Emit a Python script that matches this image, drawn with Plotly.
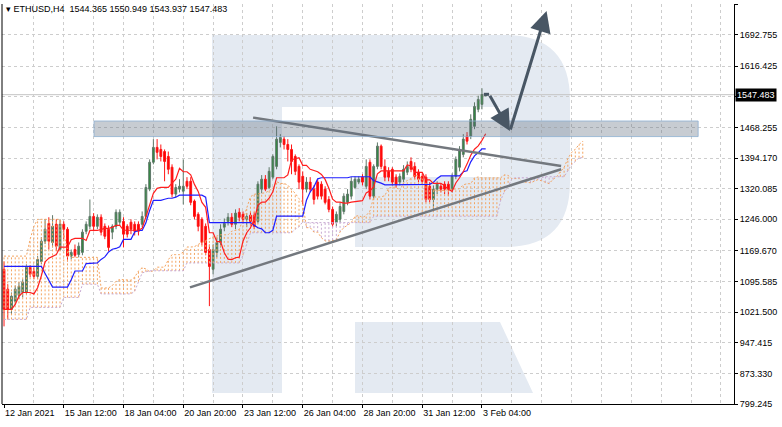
import plotly.graph_objects as go
import pandas as pd

# ---------------- data ----------------
symbol = "ETHUSD,H4"

opens = [1125, 1077, 1028, 1048, 1062, 1069, 1069, 1130, 1120, 1108,
         1144, 1193, 1236, 1190, 1234, 1173, 1234, 1222, 1157, 1173,
         1161, 1166, 1217, 1229, 1253, 1229, 1251, 1229, 1222, 1215,
         1229, 1239, 1241, 1229, 1239, 1234, 1234, 1234, 1253, 1319,
         1384, 1420, 1415, 1410, 1398, 1372, 1307, 1319, 1314, 1338,
         1338, 1290, 1258, 1246, 1229, 1173, 1125, 1166, 1190, 1227,
         1241, 1251, 1234, 1263, 1258, 1246, 1256, 1256, 1241, 1319,
         1343, 1323, 1348, 1374, 1432, 1440, 1427, 1415, 1398, 1374,
         1350, 1319, 1336, 1319, 1336, 1331, 1319, 1294, 1270, 1239,
         1246, 1265, 1287, 1302, 1323, 1336, 1348, 1326, 1384, 1302,
         1374, 1423, 1374, 1362, 1367, 1348, 1336, 1343, 1360, 1386,
         1374, 1360, 1350, 1348, 1326, 1294, 1319, 1326, 1331, 1331,
         1319, 1350, 1372, 1403, 1447, 1447, 1471, 1512, 1524, 1544.365]

highs = [1144, 1089, 1069, 1086, 1094, 1101, 1137, 1135, 1130, 1157,
         1203, 1246, 1251, 1256, 1246, 1246, 1241, 1227, 1173, 1185,
         1190, 1222, 1241, 1294, 1261, 1258, 1258, 1236, 1231, 1234,
         1270, 1270, 1251, 1234, 1246, 1241, 1241, 1265, 1331, 1391,
         1440, 1440, 1427, 1415, 1410, 1379, 1331, 1343, 1391, 1348,
         1348, 1294, 1263, 1251, 1236, 1185, 1185, 1202, 1234, 1248,
         1261, 1261, 1270, 1273, 1265, 1261, 1265, 1263, 1338, 1353,
         1353, 1372, 1403, 1471, 1452, 1447, 1440, 1427, 1403, 1379,
         1362, 1348, 1348, 1328, 1343, 1338, 1326, 1302, 1277, 1265,
         1287, 1309, 1319, 1348, 1350, 1350, 1355, 1391, 1391, 1379,
         1432, 1427, 1391, 1372, 1372, 1355, 1357, 1377, 1386, 1396,
         1384, 1367, 1357, 1355, 1336, 1328, 1338, 1333, 1338, 1338,
         1357, 1398, 1423, 1452, 1457, 1500, 1529, 1545, 1563, 1550.949]

lows = [987, 1004, 1016, 1040, 1053, 1057, 1065, 1106, 1101, 1101,
        1137, 1186, 1173, 1178, 1169, 1169, 1198, 1144, 1149, 1154,
        1154, 1159, 1210, 1222, 1217, 1222, 1207, 1198, 1169, 1198,
        1222, 1231, 1178, 1202, 1210, 1207, 1207, 1227, 1246, 1314,
        1379, 1391, 1386, 1338, 1355, 1299, 1299, 1311, 1282, 1319,
        1280, 1246, 1217, 1183, 1159, 1036, 1113, 1154, 1178, 1217,
        1231, 1227, 1222, 1241, 1236, 1227, 1231, 1222, 1236, 1309,
        1314, 1319, 1343, 1367, 1420, 1415, 1386, 1355, 1353, 1319,
        1282, 1311, 1311, 1282, 1294, 1294, 1282, 1263, 1227, 1229,
        1239, 1258, 1280, 1294, 1319, 1331, 1328, 1319, 1294, 1294,
        1367, 1367, 1338, 1338, 1328, 1323, 1328, 1336, 1353, 1360,
        1343, 1336, 1331, 1287, 1287, 1270, 1307, 1311, 1307, 1302,
        1311, 1343, 1362, 1396, 1427, 1440, 1464, 1505, 1512, 1543.937]

closes = [1028, 1028, 1060, 1077, 1084, 1094, 1130, 1113, 1108, 1149,
          1193, 1222, 1193, 1229, 1181, 1234, 1222, 1157, 1166, 1159,
          1181, 1215, 1234, 1253, 1229, 1251, 1215, 1205, 1178, 1229,
          1263, 1263, 1210, 1210, 1222, 1217, 1217, 1253, 1323, 1384,
          1420, 1408, 1398, 1386, 1367, 1307, 1323, 1326, 1326, 1326,
          1287, 1253, 1229, 1190, 1166, 1132, 1173, 1190, 1222, 1236,
          1251, 1234, 1261, 1251, 1246, 1253, 1241, 1229, 1331, 1343,
          1319, 1362, 1398, 1440, 1444, 1427, 1415, 1386, 1362, 1336,
          1319, 1336, 1319, 1294, 1302, 1302, 1287, 1270, 1234, 1258,
          1277, 1302, 1307, 1338, 1343, 1343, 1336, 1374, 1302, 1374,
          1423, 1374, 1348, 1348, 1336, 1331, 1350, 1367, 1374, 1367,
          1350, 1343, 1338, 1294, 1294, 1319, 1331, 1319, 1319, 1319,
          1350, 1391, 1415, 1440, 1435, 1488, 1519, 1536, 1548, 1547.483]

bars = list(range(len(closes)))

# indicator values on screen that depend on bars before the visible window
tenkan_head = [1028, 1028, 1028, 1040, 1060, 1069, 1069, 1069]                 # bars 0-7
kijun_head = [1132, 1132, 1132, 1132, 1132, 1132, 1132, 1132, 1132, 1132,
              1132, 1115, 1100, 1082, 1082, 1082, 1082, 1082, 1100, 1121,
              1121, 1121, 1139, 1139, 1139]                                      # bars 0-24
span_a_head = [1157, 1157, 1157, 1157, 1157, 1157, 1157, 1198, 1229, 1246,
               1246, 1246, 1246, 1246, 1246, 1246, 1210, 1173, 1154, 1154,
               1154, 1154, 1154, 1154, 1154, 1154]                               # cloud columns 0-25
span_b_head = [1004, 1004, 1004, 1004, 1004, 1004, 1004, 1033, 1033, 1033,
               1033, 1033, 1033, 1033, 1033, 1033, 1057, 1057, 1057, 1057,
               1057, 1089, 1089, 1089, 1089, 1089]

x_tick_bars = [0, 16, 32, 48, 64, 80, 96, 112, 128]
x_tick_labels = ["12 Jan 2021", "15 Jan 12:00", "18 Jan 04:00", "20 Jan 20:00",
                 "23 Jan 12:00", "26 Jan 04:00", "28 Jan 20:00", "31 Jan 12:00",
                 "3 Feb 04:00"]
y_tick_values = [1766.840, 1692.755, 1616.425, 1542.340, 1468.255, 1394.170, 1320.085,
                 1246.000, 1169.670, 1095.585, 1021.500, 947.415, 873.330, 799.245]
y_tick_labels = ["1766.840", "1692.755", "1616.425", "", "1468.255", "1394.170", "1320.085",
                 "1246.000", "1169.670", "1095.585", "1021.500", "947.415", "873.330", "799.245"]

# drawn analysis objects
zone_prices = [1446.1, 1483.8]
zone_bars = [24.1, 185.9]
trend_upper_bars = [66.7, 149.2]
trend_upper_prices = [1492.0, 1374.9]
trend_lower_bars = [49.8, 149.2]
trend_lower_prices = [1081.5, 1367.0]
forecast_bars = [128.5, 129.9, 135.5, 145.3]
forecast_prices = [1548.4, 1548.4, 1459.6, 1749.9]

# ---------------- Ichimoku ----------------
h = pd.Series(highs, dtype=float)
l = pd.Series(lows, dtype=float)
tenkan = (h.rolling(9, min_periods=1).max() + l.rolling(9, min_periods=1).min()) / 2
kijun = (h.rolling(26, min_periods=1).max() + l.rolling(26, min_periods=1).min()) / 2
tenkan.iloc[:len(tenkan_head)] = tenkan_head
kijun.iloc[:len(kijun_head)] = kijun_head
span_a = list(span_a_head) + list((tenkan + kijun) / 2)
span_b = list(span_b_head) + list((h.rolling(52, min_periods=1).max() + l.rolling(52, min_periods=1).min()) / 2)
cloud_x = list(range(len(span_a)))

ox, oy, tx, ty = [], [], [], []
for j, a, b in zip(cloud_x, span_a, span_b):
    if a >= b:
        ox += [j, j, None]; oy += [b, a, None]
    else:
        tx += [j, j, None]; ty += [a, b, None]

ORANGE = "rgb(244,164,96)"
THISTLE = "rgb(200,170,210)"

fig = go.Figure()
fig.add_trace(go.Scatter(x=ox, y=oy, mode="lines", line=dict(color=ORANGE, width=1, dash="2px,2px"),
                         hoverinfo="skip"))
fig.add_trace(go.Scatter(x=tx, y=ty, mode="lines", line=dict(color=THISTLE, width=1, dash="2px,2px"),
                         hoverinfo="skip"))
fig.add_trace(go.Scatter(x=cloud_x, y=span_a, mode="lines", line=dict(color=ORANGE, width=1, dash="2px,2px")))
fig.add_trace(go.Scatter(x=cloud_x, y=span_b, mode="lines", line=dict(color=THISTLE, width=1, dash="2px,2px")))
fig.add_trace(go.Scatter(x=bars, y=list(kijun), mode="lines", line=dict(color="rgb(30,30,255)", width=1.2)))
fig.add_trace(go.Scatter(x=bars, y=list(tenkan), mode="lines", line=dict(color="rgb(255,30,30)", width=1.2)))

fig.add_trace(go.Candlestick(
    x=bars, open=opens, high=highs, low=lows, close=closes,
    increasing=dict(line=dict(color="rgb(95,120,105)", width=1), fillcolor="rgb(46,139,62)"),
    decreasing=dict(line=dict(color="rgb(255,20,20)", width=1), fillcolor="rgb(255,0,0)"),
    whiskerwidth=0,
))

LINE_GRAY = "rgb(115,120,126)"
fig.add_trace(go.Scatter(x=trend_upper_bars, y=trend_upper_prices, mode="lines",
                         line=dict(color=LINE_GRAY, width=2.5)))
fig.add_trace(go.Scatter(x=trend_lower_bars, y=trend_lower_prices, mode="lines",
                         line=dict(color=LINE_GRAY, width=2.5)))

ARROW = "rgb(72,86,100)"
fig.add_trace(go.Scatter(x=forecast_bars[:2], y=forecast_prices[:2], mode="lines",
                         line=dict(color=ARROW, width=3)))

# ---------------- layout ----------------
W, H = 782, 427
ML, MR, MT, MB = 2, 48, 4, 23
PW, PH = W - ML - MR, H - MT - MB


def px(xp):
    return (xp - ML) / PW


def py(yp):
    return (MT + PH - yp) / PH


LOGO = "rgb(228,234,242)"
shapes = []
# watermark "R"
for (x0, y0, x1, y1) in [(212, 35, 282, 393), (282, 35, 500, 107), (355, 177, 500, 247)]:
    shapes.append(dict(type="rect", xref="paper", yref="paper", x0=px(x0), x1=px(x1),
                       y0=py(y1), y1=py(y0), fillcolor=LOGO, line=dict(width=0), layer="below"))
bowl = (f"M {px(500)},{py(35)} L {px(505)},{py(35)} Q {px(570)},{py(35)} {px(570)},{py(100)} "
        f"L {px(570)},{py(182)} Q {px(570)},{py(247)} {px(505)},{py(247)} L {px(500)},{py(247)} Z")
shapes.append(dict(type="path", xref="paper", yref="paper", path=bowl, fillcolor=LOGO,
                   line=dict(width=0), layer="below"))
leg = (f"M {px(355)},{py(322)} L {px(500)},{py(322)} L {px(533)},{py(393)} L {px(355)},{py(393)} Z")
shapes.append(dict(type="path", xref="paper", yref="paper", path=leg, fillcolor=LOGO,
                   line=dict(width=0), layer="below"))
# bid line
shapes.append(dict(type="line", xref="paper", yref="y", x0=0, x1=1, y0=closes[-1], y1=closes[-1],
                   line=dict(color="rgb(196,196,196)", width=1), layer="below"))
# resistance zone
shapes.append(dict(type="rect", xref="x", yref="y", x0=zone_bars[0], x1=zone_bars[1],
                   y0=zone_prices[0], y1=zone_prices[1], fillcolor="rgba(95,110,125,0.35)",
                   line=dict(color="rgba(140,175,210,0.8)", width=1), layer="above"))
# left frame line
shapes.append(dict(type="line", xref="paper", yref="paper", x0=0, x1=0, y0=0, y1=1,
                   line=dict(color="black", width=1)))

annotations = [
    dict(xref="paper", yref="paper", x=0, y=1, xanchor="left", yanchor="top", xshift=2, yshift=2,
         showarrow=False,
         text=f"▾ {symbol}  {opens[-1]:.3f} {highs[-1]:.3f} {lows[-1]:.3f} {closes[-1]:.3f}",
         font=dict(family="Liberation Sans", size=9, color="black")),
    dict(xref="paper", yref="y", x=1, y=closes[-1], xanchor="left", yanchor="middle", xshift=1,
         showarrow=False, text=f"{closes[-1]:.3f}", bgcolor="black", borderpad=1,
         font=dict(family="Liberation Sans", size=9, color="white")),
    dict(x=forecast_bars[2], y=forecast_prices[2], ax=forecast_bars[1], ay=forecast_prices[1],
         xref="x", yref="y", axref="x", ayref="y", text="", showarrow=True,
         arrowhead=2, arrowsize=1.4, arrowwidth=3, arrowcolor=ARROW, standoff=0),
    dict(x=forecast_bars[3], y=forecast_prices[3], ax=forecast_bars[2], ay=forecast_prices[2],
         xref="x", yref="y", axref="x", ayref="y", text="", showarrow=True,
         arrowhead=2, arrowsize=1.4, arrowwidth=3, arrowcolor=ARROW, standoff=0),
]

GRID = "rgb(205,205,205)"
fig.update_layout(
    width=W, height=H, margin=dict(l=ML, r=MR, t=MT, b=MB, autoexpand=False),
    paper_bgcolor="white", plot_bgcolor="white", showlegend=False,
    font=dict(family="Liberation Sans", size=9, color="black"),
    shapes=shapes, annotations=annotations,
    xaxis=dict(
        range=[-0.54, 195.5], rangeslider=dict(visible=False), automargin=False,
        tickvals=x_tick_bars, ticktext=x_tick_labels, ticks="outside", ticklen=3, tickangle=0,
        tickcolor="black", ticklabelposition="outside right",
        showgrid=False, zeroline=False, showline=True, linecolor="black", linewidth=1,
        minor=dict(tickvals=list(range(8, 196, 8)), showgrid=True, gridcolor=GRID,
                   griddash="3px,3px", gridwidth=1, ticks=""),
        tickfont=dict(family="Liberation Sans", size=9, color="black"),
    ),
    yaxis=dict(
        side="right", range=[799.245, 1766.84], tickvals=y_tick_values, ticktext=y_tick_labels,
        automargin=False,
        ticks="outside", ticklen=3, tickcolor="black", showgrid=True, gridcolor=GRID,
        griddash="3px,3px", gridwidth=1, zeroline=False, showline=True, linecolor="black",
        linewidth=1, tickfont=dict(family="Liberation Sans", size=9, color="black"),
    ),
)

fig.write_html("out.html", config={"displayModeBar": False},
               post_script="document.body.style.margin='0';document.body.style.overflow='hidden';")
